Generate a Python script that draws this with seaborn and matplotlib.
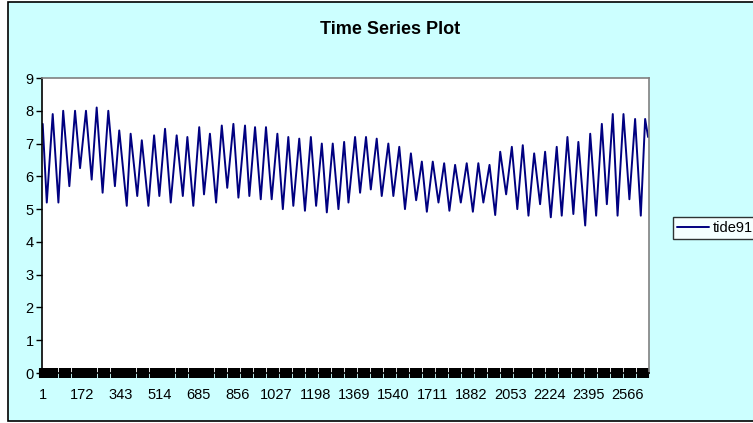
import pandas as pd
import matplotlib
matplotlib.use("Agg")
import matplotlib.pyplot as plt
import seaborn as sns
from matplotlib.patches import Rectangle
from matplotlib.ticker import MultipleLocator

# turning points of the tide record (sample index, level)
sample_idx = [
    1, 19, 45, 70, 91, 118, 143, 165, 191, 216, 238, 264, 289, 318, 337, 370,
    387, 416, 436, 465, 490, 513, 538, 563, 589, 616, 636, 662, 688, 709, 735,
    762, 787, 811, 838, 860, 889, 908, 933, 958, 981, 1006, 1031, 1055, 1079,
    1101, 1127, 1152, 1178, 1201, 1226, 1248, 1274, 1299, 1324, 1343, 1372,
    1394, 1420, 1441, 1467, 1489, 1518, 1540, 1566, 1591, 1617, 1640, 1665,
    1687, 1713, 1738, 1763, 1786, 1811, 1836, 1862, 1889, 1913, 1935, 1962,
    1987, 2009, 2035, 2060, 2084, 2108, 2133, 2158, 2184, 2206, 2231, 2257,
    2279, 2304, 2330, 2352, 2382, 2404, 2430, 2455, 2477, 2503, 2524, 2550,
    2576, 2601, 2626, 2645, 2658,
]
tide_level = [
    7.6, 5.2, 7.9, 5.2, 8.0, 5.7, 8.0, 6.25, 8.0, 5.9, 8.1, 5.5, 8.0, 5.7, 7.4, 5.1,
    7.3, 5.4, 7.1, 5.1, 7.25, 5.4, 7.45, 5.2, 7.25, 5.4, 7.2, 5.1, 7.5, 5.45, 7.3,
    5.2, 7.55, 5.65, 7.6, 5.35, 7.55, 5.4, 7.5, 5.3, 7.5, 5.3, 7.3, 5.0, 7.2,
    5.1, 7.15, 4.95, 7.2, 5.1, 7.0, 4.9, 7.0, 5.0, 7.05, 5.2, 7.2,
    5.5, 7.2, 5.6, 7.15, 5.4, 7.0, 5.4, 6.9, 5.0, 6.7, 5.27, 6.45,
    4.92, 6.45, 5.2, 6.4, 4.95, 6.35, 5.2, 6.4, 4.92, 6.4, 5.2, 6.35,
    4.82, 6.75, 5.45, 6.9, 5.0, 6.95, 4.8, 6.7, 5.15, 6.75, 4.75, 6.9,
    4.8, 7.2, 4.85, 7.05, 4.5, 7.3, 4.8, 7.6, 5.15, 7.9, 4.8, 7.9,
    5.3, 7.75, 4.8, 7.75, 7.2,
]
x_labels = [1, 172, 343, 514, 685, 856, 1027, 1198, 1369, 1540, 1711,
            1882, 2053, 2224, 2395, 2566]
y_labels = [0, 1, 2, 3, 4, 5, 6, 7, 8, 9]
series_name = "tide91"

df = pd.DataFrame({"idx": sample_idx, series_name: tide_level})

sns.set_style("white")
plt.rcParams["font.family"] = ["Liberation Sans", "DejaVu Sans"]
plt.rcParams["text.color"] = "black"
plt.rcParams["xtick.color"] = "black"
plt.rcParams["ytick.color"] = "black"

fig = plt.figure(figsize=(7.53, 4.23), dpi=100, facecolor="white")
# chart area: cyan panel with black frame
fig.patches.append(Rectangle((8 / 753, 2 / 423), 1.0, 419 / 423,
                             transform=fig.transFigure, facecolor="#CCFFFF",
                             edgecolor="black", linewidth=1.2, zorder=-5))

ax = fig.add_axes([42 / 753, 1 - 373 / 423, 607 / 753, 295 / 423])
ax.set_zorder(2)
ax.set_facecolor("white")
sns.lineplot(data=df, x="idx", y=series_name, ax=ax, color="#000080",
             linewidth=1.4, label=series_name, legend=False)

ax.set_xlim(-2, 2662)
ax.set_ylim(0, 9)
ax.set_xticks(x_labels)
ax.set_xticklabels([str(v) for v in x_labels], fontsize=10.5)
ax.set_yticks(y_labels)
ax.set_yticklabels([str(v) for v in y_labels], fontsize=10.5)
ax.xaxis.set_minor_locator(MultipleLocator(28.5))
ax.tick_params(axis="x", which="both", direction="inout", length=7,
               width=4.4, color="black", pad=7, bottom=True)
ax.tick_params(axis="y", which="major", direction="out", length=4,
               width=1, color="black", pad=2, left=True)
ax.set_xlabel("")
ax.set_ylabel("")

for side in ["top", "right"]:
    ax.spines[side].set_color("#808080")
    ax.spines[side].set_linewidth(1.2)
ax.spines["left"].set_color("black")
ax.spines["left"].set_linewidth(1.2)
ax.spines["bottom"].set_color("black")
ax.spines["bottom"].set_linewidth(1.2)

fig.text(390 / 753, 1 - 30 / 423, "Time Series Plot", ha="center",
         va="center", fontsize=13, fontweight="bold", color="black")

handles, labels = ax.get_legend_handles_labels()
leg = fig.legend(handles, labels, loc="center left",
                 bbox_to_anchor=(673 / 753, 1 - 228 / 423), fontsize=10.5,
                 frameon=True, fancybox=False, handlelength=2.2,
                 handletextpad=0.2, borderpad=0.3, borderaxespad=0)
leg.get_frame().set_edgecolor("black")
leg.get_frame().set_linewidth(1.0)
leg.get_frame().set_facecolor("white")

fig.savefig("out.png", dpi=100, facecolor=fig.get_facecolor())
